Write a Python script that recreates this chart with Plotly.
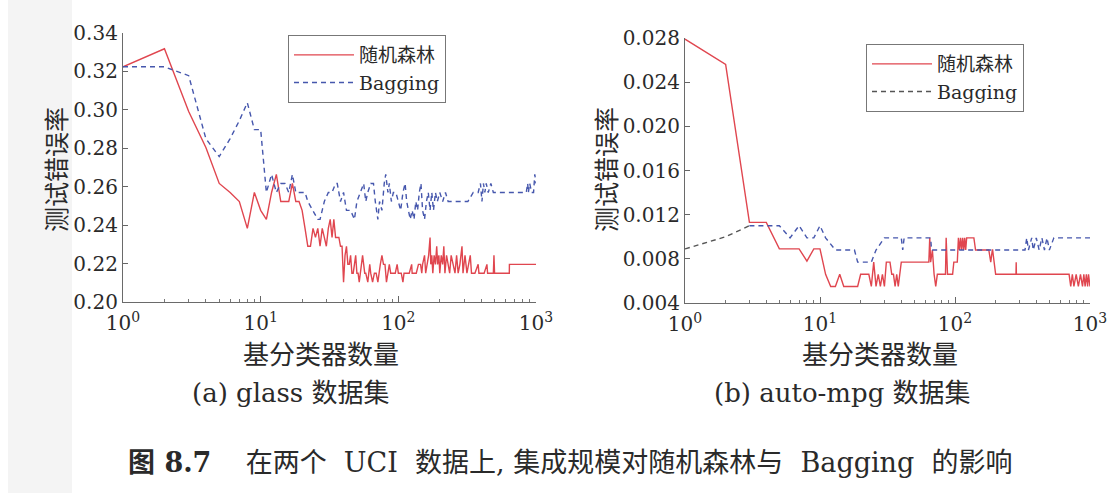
import plotly.graph_objects as go

# ---------------- data ----------------
# (a) glass: random forest
glass_rf_n = [1, 2, 3, 4, 5, 6, 7, 8, 9, 10,
              11, 12, 13, 14, 15, 16, 17, 18, 19, 20,
              21, 22, 23, 24, 25, 26, 27, 28, 29, 30,
              31, 32, 33, 34, 35, 36, 37, 38, 39, 40,
              41, 42, 43, 44, 45, 46, 47, 48, 49, 50,
              51, 52, 53, 55, 56, 57, 58, 60, 62, 63,
              65, 67, 69, 71, 74, 76, 78, 80, 82, 84,
              86, 88, 91, 95, 98, 100, 105, 108, 110, 115,
              120, 125, 126, 135, 140, 145, 148, 150, 155, 158,
              162, 166, 170, 172, 175, 178, 182, 186, 190, 193,
              197, 200, 205, 210, 214, 218, 224, 230, 236, 242,
              250, 258, 265, 272, 280, 290, 295, 305, 315, 325,
              333, 340, 360, 380, 385, 420, 440, 445, 490, 495,
              500, 600, 640, 641, 1000]
glass_rf_err = [.3224, .3318, .2991, .2804, .2617, .2570, .2523, .2383, .2570, .2477,
                .2430, .2570, .2664, .2523, .2523, .2523, .2617, .2523, .2523, .2477,
                .2383, .2290, .2290, .2383, .2336, .2383, .2290, .2383, .2336, .2290,
                .2383, .2430, .2336, .2430, .2336, .2336, .2336, .2290, .2290, .2103,
                .2243, .2290, .2196, .2196, .2243, .2150, .2150, .2196, .2243, .2150,
                .2150, .2103, .2150, .2243, .2196, .2150, .2150, .2103, .2196, .2150,
                .2103, .2150, .2150, .2103, .2196, .2243, .2196, .2196, .2103, .2150,
                .2196, .2150, .2150, .2150, .2196, .2150, .2150, .2103, .2150, .2150,
                .2150, .2196, .2150, .2150, .2196, .2196, .2150, .2196, .2243, .2150,
                .2196, .2243, .2336, .2196, .2243, .2150, .2243, .2196, .2290, .2196,
                .2243, .2150, .2243, .2196, .2290, .2150, .2243, .2196, .2150, .2243,
                .2196, .2150, .2243, .2150, .2196, .2290, .2150, .2243, .2150, .2196,
                .2243, .2150, .2150, .2196, .2150, .2150, .2196, .2150, .2150, .2243,
                .2150, .2150, .2150, .2196, .2196]

# (a) glass: Bagging
glass_bag_n = [1, 2, 3, 4, 5, 6, 7, 8, 9, 10,
               11, 12, 13, 14, 15, 16, 17, 18, 19, 20,
               21, 22, 24, 26, 27, 29, 31, 33, 35, 36,
               38, 40, 42, 45, 48, 50, 53, 56, 58, 60,
               63, 66, 68, 71, 73, 76, 79, 81, 84, 86,
               89, 92, 96, 100, 104, 108, 112, 115, 119, 122,
               126, 130, 134, 138, 142, 146, 150, 155, 160, 165,
               170, 175, 180, 186, 192, 200, 210, 220, 230, 250,
               280, 320, 350, 380, 395, 405, 415, 425, 435, 450,
               470, 490, 520, 560, 620, 700, 850, 870, 880, 900,
               930, 960, 980, 1000]
glass_bag_err = [.3224, .3224, .3178, .2850, .2757, .2850, .2944, .3037, .2897, .2897,
                 .2570, .2664, .2570, .2617, .2617, .2570, .2664, .2570, .2570, .2570,
                 .2570, .2523, .2477, .2430, .2430, .2523, .2570, .2570, .2617, .2617,
                 .2523, .2570, .2477, .2477, .2430, .2523, .2570, .2617, .2523, .2570,
                 .2617, .2617, .2523, .2430, .2523, .2477, .2617, .2664, .2570, .2617,
                 .2523, .2570, .2570, .2523, .2477, .2570, .2617, .2523, .2477, .2430,
                 .2477, .2430, .2523, .2477, .2570, .2617, .2477, .2430, .2523, .2570,
                 .2477, .2570, .2477, .2570, .2523, .2570, .2523, .2570, .2523, .2523,
                 .2523, .2523, .2570, .2570, .2617, .2523, .2617, .2570, .2617, .2570,
                 .2617, .2570, .2570, .2570, .2570, .2570, .2570, .2617, .2570, .2617,
                 .2570, .2570, .2664, .2617]

# (b) auto-mpg: random forest
mpg_rf_n = [1, 2, 3, 4, 5, 6, 7, 8, 9, 10,
            11, 12, 13, 14, 15, 16, 17, 18, 19, 20,
            21, 22, 23, 24, 25, 26, 27, 28, 29, 30,
            31, 32, 33, 34, 35, 36, 37, 38, 40, 50,
            62, 64, 65, 66, 68, 70, 72, 74, 80, 84,
            85, 86, 88, 96, 98, 104, 106, 108, 110, 112,
            114, 116, 118, 120, 122, 138, 142, 178, 184, 189,
            190, 200, 283, 284, 285, 700, 720, 740, 760, 790,
            820, 850, 880, 900, 920, 940, 960, 975, 990, 1000]
mpg_rf_err = [.0279, .0256, .0113, .0113, .0089, .0089, .0089, .0078, .0089, .0089,
              .0066, .0055, .0055, .0066, .0055, .0055, .0055, .0055, .0055, .0066,
              .0066, .0066, .0066, .0055, .0077, .0055, .0066, .0055, .0066, .0055,
              .0077, .0077, .0077, .0066, .0066, .0055, .0066, .0055, .0077, .0077,
              .0077, .0077, .0099, .0077, .0088, .0066, .0055, .0066, .0066, .0066,
              .0066, .0099, .0066, .0066, .0077, .0077, .0099, .0088, .0099, .0088,
              .0099, .0088, .0099, .0088, .0099, .0099, .0088, .0088, .0077, .0088,
              .0088, .0066, .0066, .0077, .0066, .0066, .0055, .0066, .0055, .0066,
              .0055, .0066, .0055, .0066, .0055, .0066, .0055, .0066, .0055, .0055]

# (b) auto-mpg: Bagging
mpg_bag_n = [1, 2, 3, 4, 5, 6, 7, 8, 9, 10,
             11, 13, 18, 19, 24, 26, 30, 40, 41, 42,
             66, 67, 330, 340, 350, 370, 380, 400, 420, 440,
             460, 480, 500, 540, 1000]
mpg_bag_err = [.0089, .0100, .0110, .0110, .0110, .0099, .0110, .0099, .0099, .0110,
               .0099, .0088, .0088, .0077, .0077, .0088, .0099, .0099, .0088, .0099,
               .0099, .0088, .0088, .0099, .0088, .0099, .0088, .0099, .0088, .0099,
               .0088, .0099, .0088, .0099, .0099]

x_tickvals = [1, 10, 100, 1000]
x_ticktext = ["10<sup>0</sup>", "10<sup>1</sup>", "10<sup>2</sup>", "10<sup>3</sup>"]
x_minor = [2, 3, 4, 5, 6, 7, 8, 9, 20, 30, 40, 50, 60, 70, 80, 90,
           200, 300, 400, 500, 600, 700, 800, 900]
glass_yticks = [0.20, 0.22, 0.24, 0.26, 0.28, 0.30, 0.32, 0.34]
mpg_yticks = [0.004, 0.008, 0.012, 0.016, 0.020, 0.024, 0.028]

name_rf = "随机森林"
name_bag = "Bagging"
xlabel = "基分类器数量"
ylabel = "测试错误率"
cap_a = "(a) glass 数据集"
cap_b = "(b) auto-mpg 数据集"
NB = "\u00a0"
fig_caption = ("<b>图" + NB + "8.7</b>" + NB * 4 + "在两个" + NB * 2 + "UCI" + NB * 2 + "数据上," + NB
               + "集成规模对随机森林与" + NB * 2 + "Bagging" + NB * 2 + "的影响")

# ---------------- style ----------------
RED = "#e0464f"
BLUE = "#4657ad"
GRAY = "#555555"
SERIF = "DejaVu Serif, Noto Sans CJK SC, serif"
CJK = "Noto Sans CJK SC, sans-serif"
TXT = "#2a2a2a"
W, H = 1107, 493
LW = 1.4

fig = go.Figure()
fig.add_trace(go.Scatter(x=glass_rf_n, y=glass_rf_err, mode="lines", name=name_rf,
                         line=dict(color=RED, width=LW), xaxis="x", yaxis="y", legend="legend"))
fig.add_trace(go.Scatter(x=glass_bag_n, y=glass_bag_err, mode="lines", name=name_bag,
                         line=dict(color=BLUE, width=LW, dash="5px,4px"), xaxis="x", yaxis="y",
                         legend="legend"))
fig.add_trace(go.Scatter(x=mpg_rf_n, y=mpg_rf_err, mode="lines", name=name_rf,
                         line=dict(color=RED, width=LW), xaxis="x2", yaxis="y2", legend="legend2"))
fig.add_trace(go.Scatter(x=mpg_bag_n[:3], y=mpg_bag_err[:3], mode="lines", name=name_bag,
                         line=dict(color=GRAY, width=LW, dash="5px,4px"), xaxis="x2", yaxis="y2",
                         legend="legend2"))
fig.add_trace(go.Scatter(x=mpg_bag_n[2:], y=mpg_bag_err[2:], mode="lines", name=name_bag,
                         line=dict(color=BLUE, width=LW, dash="5px,4px"), xaxis="x2", yaxis="y2",
                         showlegend=False))


def px_x(p):
    return p / W


def px_y(p):
    return 1 - p / H


common_x = dict(type="log", range=[0, 3], tickvals=x_tickvals, ticktext=x_ticktext,
                ticks="inside", ticklen=6, tickcolor="#666", showline=True, linecolor="#6a6a6a",
                linewidth=1.2, showgrid=False, zeroline=False, automargin=False,
                ticklabelstandoff=3, ticklabeloverflow="allow",
                tickfont=dict(family=SERIF, size=20, color=TXT),
                minor=dict(tickvals=x_minor, ticks="inside", ticklen=3, tickcolor="#777",
                           showgrid=False))
common_y = dict(ticks="inside", ticklen=5, tickcolor="#666", showline=True, linecolor="#6a6a6a",
                linewidth=1.2, showgrid=False, zeroline=False, automargin=False,
                ticklabeloverflow="allow",
                tickfont=dict(family=SERIF, size=20, color=TXT))

leg_common = dict(xanchor="left", yanchor="top", bordercolor="#777", borderwidth=1,
                  bgcolor="white", font=dict(family=SERIF, size=19, color=TXT),
                  tracegroupgap=0, itemwidth=60)

fig.update_layout(
    width=W, height=H, autosize=False,
    margin=dict(l=0, r=0, t=0, b=0, autoexpand=False),
    paper_bgcolor="white", plot_bgcolor="white",
    xaxis=dict(domain=[px_x(123), px_x(536)], anchor="y", **common_x),
    yaxis=dict(domain=[px_y(302), px_y(33)], anchor="x", range=[0.20, 0.34],
               tickvals=glass_yticks, tickformat=".2f", **common_y),
    xaxis2=dict(domain=[px_x(685), px_x(1090)], anchor="y2", **common_x),
    yaxis2=dict(domain=[px_y(303), px_y(38)], anchor="x2", range=[0.004, 0.028],
                tickvals=mpg_yticks, tickformat=".3f", **common_y),
    legend=dict(x=px_x(288), y=px_y(35), **leg_common),
    legend2=dict(x=px_x(866), y=px_y(44), **leg_common),
    shapes=[dict(type="rect", xref="paper", yref="paper", x0=8 / W, x1=72 / W, y0=0, y1=1,
                 fillcolor="#f4f4f4", line=dict(width=0), layer="below")],
)

ann = []
for cx in (55, 605):
    ann.append(dict(text=ylabel, x=px_x(cx), y=px_y(170), xref="paper", yref="paper",
                    showarrow=False, textangle=-90, xanchor="center", yanchor="middle",
                    font=dict(family=CJK, size=25, color=TXT)))
for cx in (321, 880):
    ann.append(dict(text=xlabel, x=px_x(cx), y=px_y(352), xref="paper", yref="paper",
                    showarrow=False, xanchor="center", yanchor="middle",
                    font=dict(family=CJK, size=26, color=TXT)))
ann.append(dict(text=cap_a, x=px_x(290), y=px_y(393), xref="paper", yref="paper",
                showarrow=False, xanchor="center", yanchor="middle",
                font=dict(family=SERIF, size=26, color=TXT)))
ann.append(dict(text=cap_b, x=px_x(842), y=px_y(393), xref="paper", yref="paper",
                showarrow=False, xanchor="center", yanchor="middle",
                font=dict(family=SERIF, size=26, color=TXT)))
ann.append(dict(text=fig_caption, x=px_x(570), y=px_y(462), xref="paper", yref="paper",
                showarrow=False, xanchor="center", yanchor="middle",
                font=dict(family=SERIF, size=27, color=TXT)))
fig.update_layout(annotations=ann)

fig.write_html("out.html", config={"displayModeBar": False},
               post_script="document.body.style.margin='0px';")
